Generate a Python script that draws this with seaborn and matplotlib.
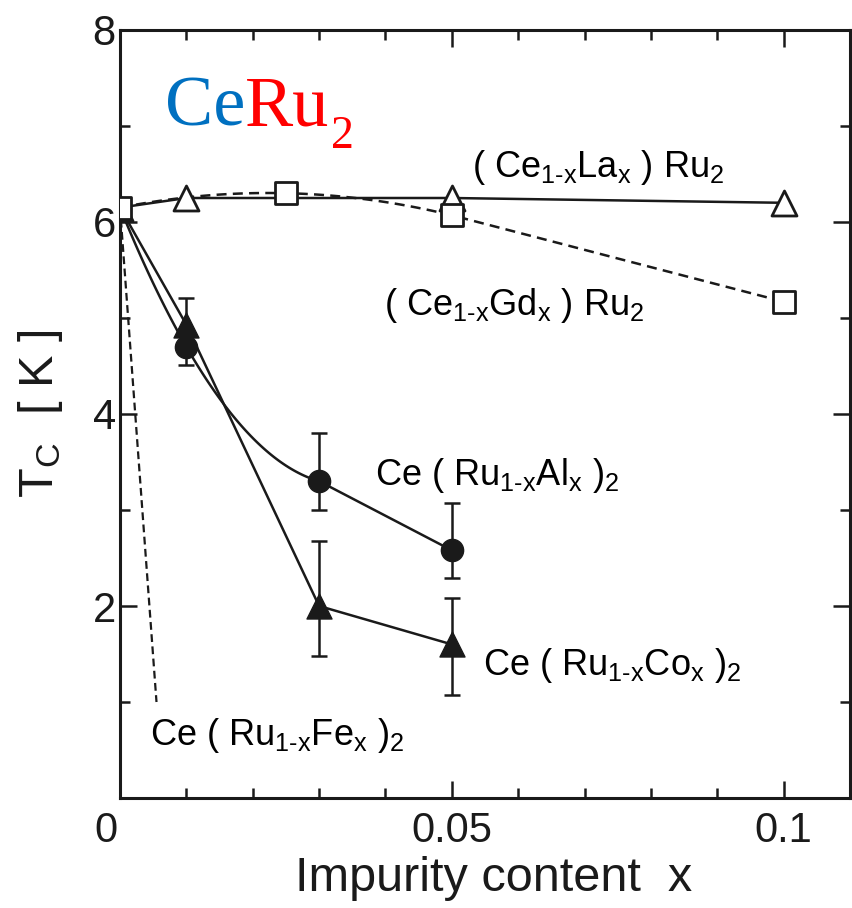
import numpy as np
import matplotlib
matplotlib.use("Agg")
import matplotlib.pyplot as plt
import seaborn as sns
from matplotlib.ticker import MultipleLocator, FixedLocator
import matplotlib.transforms as mtransforms

# ---------------- data ----------------
x_la = [0.0, 0.01, 0.05, 0.10]
tc_la = [6.15, 6.25, 6.25, 6.20]

x_gd = [0.0, 0.025, 0.05, 0.10]
tc_gd = [6.15, 6.30, 6.07, 5.17]

x_al = [0.0, 0.01, 0.03, 0.05]
tc_al = [6.15, 4.70, 3.30, 2.58]
al_err_lo = [0.0, 0.19, 0.30, 0.29]
al_err_hi = [0.0, 0.19, 0.50, 0.49]

x_co = [0.0, 0.01, 0.03, 0.05]
tc_co = [6.15, 4.93, 2.00, 1.60]
co_err_lo = [0.0, 0.30, 0.52, 0.53]
co_err_hi = [0.0, 0.28, 0.68, 0.48]

x_fe = [0.0, 0.0055]
tc_fe = [6.15, 1.0]

x_major = [0, 0.05, 0.1]
x_major_labels = ["0", "0.05", "0.1"]
y_major = [2, 4, 6, 8]

# ---------------- style ----------------
sns.set_theme(style="ticks")
plt.rcParams["font.family"] = ["Liberation Sans", "DejaVu Sans"]
plt.rcParams["mathtext.fontset"] = "custom"
plt.rcParams["mathtext.rm"] = "Liberation Sans"
plt.rcParams["mathtext.it"] = "Liberation Sans:italic"
plt.rcParams["mathtext.bf"] = "Liberation Sans:bold"
for k in ["text.color", "axes.labelcolor", "xtick.color", "ytick.color", "axes.edgecolor"]:
    plt.rcParams[k] = "black"

fig = plt.figure(figsize=(8.52, 9.08), dpi=100)
ax = fig.add_axes([120 / 852, 1 - 798 / 908, 730 / 852, 768 / 908])

LW = 1.8


def smooth_then_straight(xs, ys, n_curve):
    """Quadratic through first n_curve points, straight segments after."""
    c = np.polyfit(xs[:n_curve], ys[:n_curve], n_curve - 1)
    xx = np.linspace(xs[0], xs[n_curve - 1], 80)
    yy = np.polyval(c, xx)
    xx = np.concatenate([xx, xs[n_curve:]])
    yy = np.concatenate([yy, ys[n_curve:]])
    return xx, yy


# La: straight solid
sns.lineplot(x=x_la, y=tc_la, ax=ax, color="k", lw=LW, sort=False, estimator=None)
# Gd: dashed smooth
gx, gy = smooth_then_straight(np.array(x_gd), np.array(tc_gd), 3)
sns.lineplot(x=gx, y=gy, ax=ax, color="k", lw=LW, sort=False, estimator=None,
             linestyle=(0, (4, 2.5)))
# Al: solid smooth
ax_, ay_ = smooth_then_straight(np.array(x_al), np.array(tc_al), 3)
sns.lineplot(x=ax_, y=ay_, ax=ax, color="k", lw=LW, sort=False, estimator=None)
# Co: straight solid
sns.lineplot(x=x_co, y=tc_co, ax=ax, color="k", lw=LW, sort=False, estimator=None)
# Fe: dashed
sns.lineplot(x=x_fe, y=tc_fe, ax=ax, color="k", lw=1.6, sort=False, estimator=None,
             linestyle=(0, (3.5, 2)))

# error bars
ax.errorbar(x_al[1:], tc_al[1:], yerr=[al_err_lo[1:], al_err_hi[1:]], fmt="none",
            ecolor="k", elinewidth=LW, capsize=6, capthick=LW, zorder=3)
ax.errorbar(x_co[1:], tc_co[1:], yerr=[co_err_lo[1:], co_err_hi[1:]], fmt="none",
            ecolor="k", elinewidth=LW, capsize=6, capthick=LW, zorder=3)

# markers
sns.scatterplot(x=x_la, y=tc_la, ax=ax, marker="^", s=18 ** 2, facecolor="white",
                edgecolor="k", linewidth=2, zorder=4)
sns.scatterplot(x=x_gd, y=tc_gd, ax=ax, marker="s", s=16 ** 2, facecolor="white",
                edgecolor="k", linewidth=2, zorder=5)
sns.scatterplot(x=x_al[1:], y=tc_al[1:], ax=ax, marker="o", s=16 ** 2, color="k",
                edgecolor="k", linewidth=1, zorder=5)
sns.scatterplot(x=x_co[1:], y=tc_co[1:], ax=ax, marker="^", s=18 ** 2, color="k",
                edgecolor="k", linewidth=1, zorder=5)

# axes
ax.set_xlim(0, 0.11)
ax.set_ylim(0, 8)
ax.xaxis.set_major_locator(FixedLocator(x_major))
ax.set_xticks(x_major)
ax.set_xticklabels(x_major_labels)
ax.xaxis.set_minor_locator(MultipleLocator(0.01))
ax.set_yticks(y_major)
ax.set_yticklabels([str(v) for v in y_major])
ax.yaxis.set_minor_locator(MultipleLocator(1))
ax.tick_params(which="both", direction="in", top=True, right=True, width=1.8,
               color="k", labelcolor="k")
ax.tick_params(which="major", length=12, labelsize=30)
ax.tick_params(which="minor", length=7)
ax.tick_params(axis="x", which="major", pad=9)
ax.tick_params(axis="y", which="major", pad=3)
for sp in ax.spines.values():
    sp.set_linewidth(2.2)
    sp.set_color("k")

# shift the x "0" label left like the reference
lbl0 = ax.get_xticklabels()[0]
lbl0.set_transform(lbl0.get_transform() + mtransforms.ScaledTranslation(-14 / 100, 0, fig.dpi_scale_trans))

ax.set_xlabel("Impurity content  x", fontsize=35, color="k")
ax.xaxis.set_label_coords(0.512, -0.075)
ax.set_ylabel("T$_\\mathregular{C}$  [ K ]", fontsize=35, labelpad=20, color="k")

# annotations
def px(xp, yp):
    return (xp / 852, 1 - yp / 908)

SUB = r"$_{\mathregular{1\text{-}x}}$"
fs = 26
fig.text(*px(472, 177), "( Ce" + SUB + "La$_\\mathregular{x}$ ) Ru$_\\mathregular{2}$", fontsize=fs, va="baseline")
fig.text(*px(384, 315), "( Ce" + SUB + "Gd$_\\mathregular{x}$ ) Ru$_\\mathregular{2}$", fontsize=fs, va="baseline")
fig.text(*px(375, 485), "Ce ( Ru" + SUB + "Al$_\\mathregular{x}$ )$_\\mathregular{2}$", fontsize=fs, va="baseline")
fig.text(*px(483, 675), "Ce ( Ru" + SUB + "Co$_\\mathregular{x}$ )$_\\mathregular{2}$", fontsize=fs, va="baseline")
fig.text(*px(150, 745), "Ce ( Ru" + SUB + "Fe$_\\mathregular{x}$ )$_\\mathregular{2}$", fontsize=fs, va="baseline")

# CeRu2 title in serif, two colours
t1 = fig.text(*px(165, 125), "Ce", fontsize=52, family="Liberation Serif",
              color="#0070C0", va="baseline")
t2 = ax.annotate("Ru", xy=(1, 0), xycoords=t1, fontsize=52, family="Liberation Serif",
                 color="#FF0000", va="bottom", ha="left")
t3 = ax.annotate("2", xy=(1, 0), xycoords=t2, xytext=(1, -13), textcoords="offset points",
                 fontsize=33, family="Liberation Serif", color="#FF0000",
                 va="bottom", ha="left")

fig.savefig("out.png", dpi=100)
